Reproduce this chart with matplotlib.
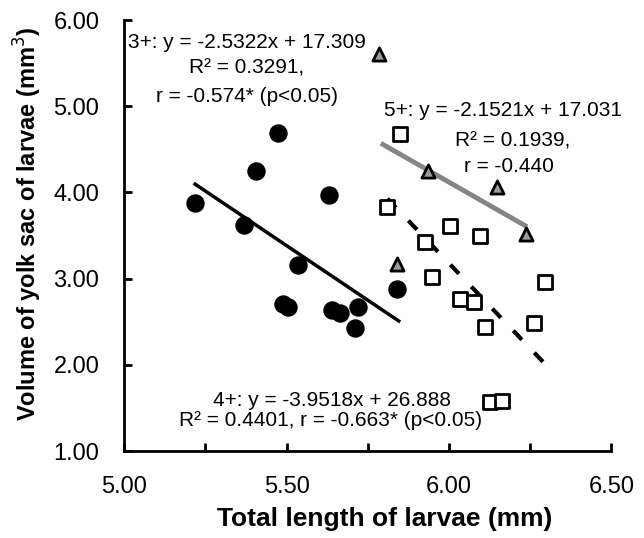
import numpy as np
import matplotlib.pyplot as plt
from matplotlib.ticker import MultipleLocator

plt.rcParams['font.family'] = ['Liberation Sans', 'DejaVu Sans']

# 3+ larvae (filled circles)
x3 = [5.218, 5.369, 5.405, 5.472, 5.490, 5.505, 5.536, 5.631, 5.639, 5.664, 5.710, 5.720, 5.841]
y3 = [3.874, 3.622, 4.252, 4.689, 2.706, 2.667, 3.158, 3.970, 2.639, 2.597, 2.431, 2.674, 2.879]

# 4+ larvae (open squares)
x4 = [5.808, 5.849, 5.926, 5.946, 6.003, 6.033, 6.078, 6.096, 6.111, 6.126, 6.162, 6.261, 6.295]
y4 = [3.826, 4.677, 3.420, 3.014, 3.613, 2.762, 2.723, 3.497, 2.433, 1.563, 1.582, 2.483, 2.955]

# 5+ larvae (grey triangles)
x5 = [5.785, 5.841, 5.936, 6.148, 6.236]
y5 = [5.605, 3.169, 4.252, 4.060, 3.518]

# regression lines (slope, intercept, x range)
fit3 = (-2.5322, 17.309, 5.218, 5.845)
fit4 = (-3.9518, 26.888, 5.810, 6.290)
fit5 = (-2.1521, 17.031, 5.790, 6.240)

fig = plt.figure(figsize=(6.44, 5.38), dpi=100)
ax = fig.add_axes([0.193, 0.1617, 0.7565, 0.8011])

def fit_line(f):
    xs = np.array([f[2], f[3]])
    return xs, f[0] * xs + f[1]

xs, ys = fit_line(fit5)
ax.plot(xs, ys, color='#858585', lw=3.5, solid_capstyle='butt', zorder=2)
xs, ys = fit_line(fit3)
ax.plot(xs, ys, color='black', lw=2.5, zorder=2)
xs, ys = fit_line(fit4)
ax.plot(xs, ys, color='black', lw=3, dashes=(3, 4.3), zorder=2)

ax.scatter(x3, y3, s=150, color='black', zorder=3)
ax.scatter(x4, y4, s=115, marker='s', facecolor='white', edgecolor='black', linewidth=2, zorder=3)
ax.scatter(x5, y5, s=90, marker='^', facecolor='#9a9a9a', edgecolor='black', linewidth=2, zorder=4)

ax.set_xlim(5.0, 6.5)
ax.set_ylim(1.0, 6.0)
ax.xaxis.set_major_locator(MultipleLocator(0.5))
ax.xaxis.set_minor_locator(MultipleLocator(0.25))
ax.yaxis.set_major_locator(MultipleLocator(1.0))
ax.xaxis.set_major_formatter(lambda v, p: f"{v:.2f}")
ax.yaxis.set_major_formatter(lambda v, p: f"{v:.2f}")
ax.tick_params(which='both', direction='in', length=6, width=2, labelsize=17)
ax.tick_params(axis='x', pad=18)
ax.tick_params(axis='y', pad=18)
for s in ['top', 'right']:
    ax.spines[s].set_visible(False)
for s in ['left', 'bottom']:
    ax.spines[s].set_linewidth(2)

ax.set_xlabel('Total length of larvae (mm)', fontsize=19, fontweight='bold')
ax.xaxis.set_label_coords(0.535, -0.13)
ax.set_ylabel('Volume of yolk sac of larvae (mm$^3$)', fontsize=17, fontweight='bold')
ax.yaxis.set_label_coords(-0.165, 0.527)

fs = 15

def put(x, y, s):
    fig.text(x / 644, 1 - y / 538, s, fontsize=fs, ha='center', va='center')

put(247, 43, '3+: y = -2.5322x + 17.309')
put(247, 68, 'R² = 0.3291,')
put(247, 96, 'r = -0.574* (p<0.05)')
put(503, 110, '5+: y = -2.1521x + 17.031')
put(513, 141, 'R² = 0.1939,')
put(509, 167, 'r = -0.440')
put(332, 401, '4+: y = -3.9518x + 26.888')
put(331, 421, 'R² = 0.4401, r = -0.663* (p<0.05)')

fig.savefig('out.png', dpi=100)
